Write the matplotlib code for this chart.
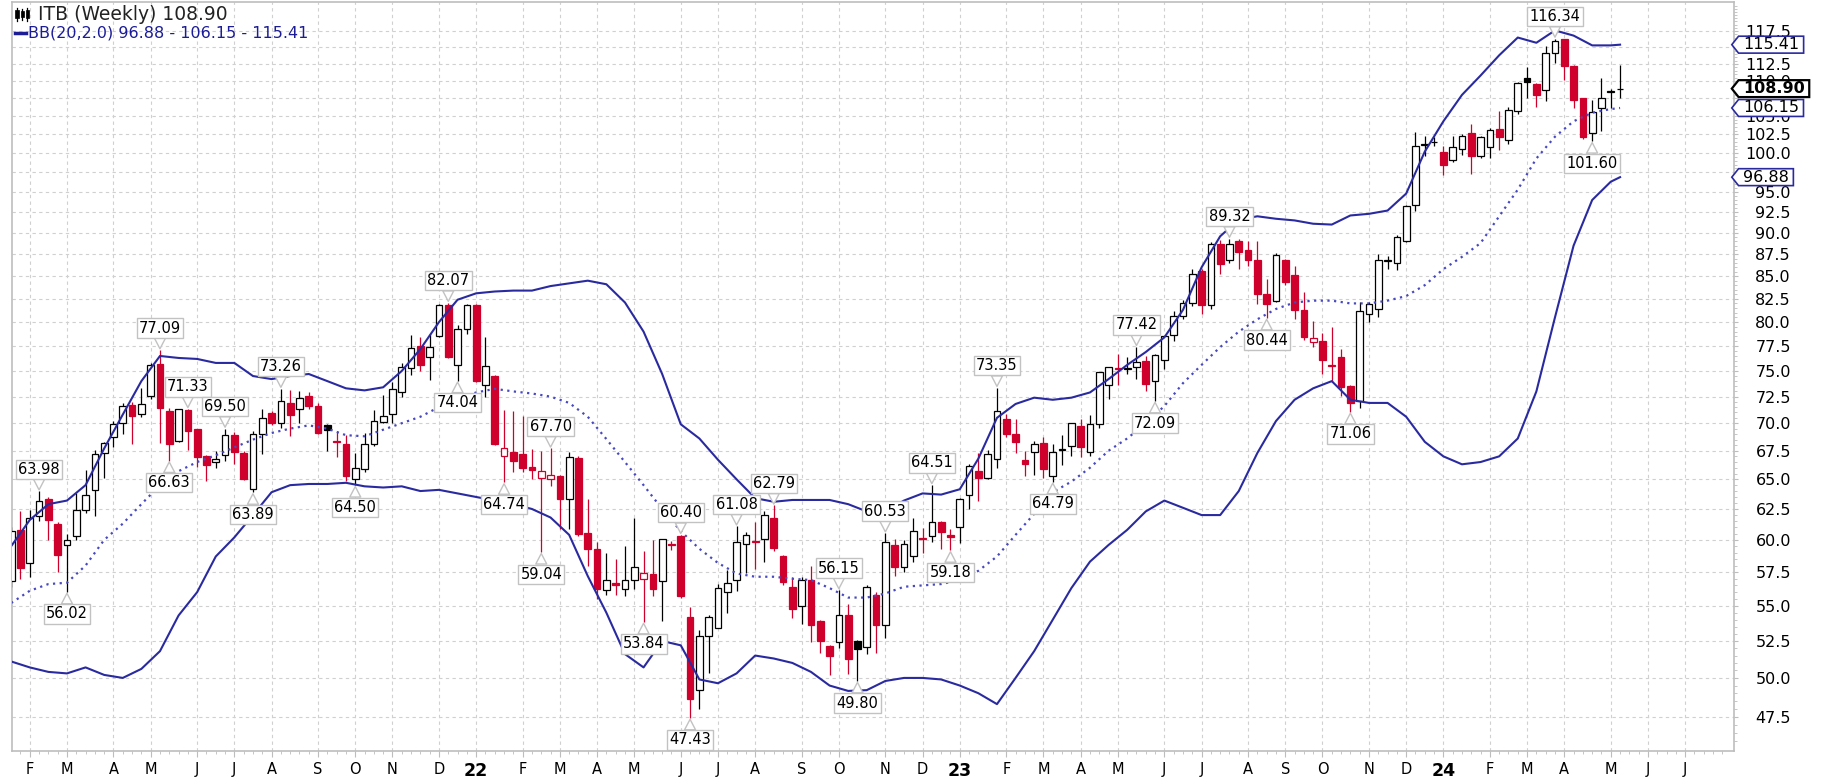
import numpy as np
import pandas as pd
import matplotlib
matplotlib.use("Agg")
import matplotlib.pyplot as plt
from matplotlib.path import Path
from matplotlib.lines import Line2D
from matplotlib.patches import Rectangle
from matplotlib.ticker import FixedLocator, NullFormatter

W, H = 1822, 778
RED = '#d0002c'
BLUE = '#2a2aa0'
NAVY = '#1c1c96'
GRID = '#d0d0d0'
FRAME = '#bdbdbd'

# ITB weekly bars, first bar = week of 2021-01-18
first_week = '2021-01-18'
opens = [
    56.8, 60.8, 58.2, 61.9, 63.3, 61.3, 59.6, 60.3, 62.45, 64.1,
    67.3, 68.7, 70.05, 71.75, 70.9, 72.6, 75.7, 71.1, 68.4, 71.2,
    69.45, 67.05, 66.5, 67.1, 68.9, 67.3, 64.15, 69.0, 70.95, 70.05,
    71.9, 71.3, 72.6, 71.6, 69.8, 68.35, 68.1, 65.0, 65.9, 68.1,
    70.1, 70.85, 72.9, 75.3, 77.5, 76.4, 78.5, 81.85, 75.6, 79.3,
    81.8, 73.6, 74.55, 67.05, 67.4, 67.2, 66.1, 65.15, 65.05, 65.3,
    63.35, 66.85, 60.55, 59.3, 56.15, 56.65, 56.2, 56.9, 57.0, 57.35,
    56.8, 59.65, 60.3, 54.2, 49.2, 52.85, 53.4, 56.0, 56.9, 59.7,
    59.95, 60.05, 61.75, 58.7, 56.4, 54.95, 56.9, 53.9, 52.15, 52.4,
    54.3, 52.5, 52.1, 55.8, 53.65, 59.6, 57.9, 58.7, 60.15, 60.3,
    61.4, 60.35, 61.0, 63.7, 65.75, 65.15, 66.75, 70.4, 69.0, 66.7,
    67.35, 68.2, 65.3, 67.55, 67.95, 69.75, 67.35, 69.9, 73.6, 75.25,
    75.15, 75.35, 76.0, 74.0, 76.1, 78.7, 80.7, 82.0, 85.6, 81.8,
    88.7, 86.8, 89.1, 87.95, 86.8, 83.05, 82.3, 86.8, 85.1, 81.25,
    77.95, 78.0, 75.6, 76.4, 73.55, 72.1, 80.9, 81.4, 86.75, 86.45,
    89.1, 93.4, 101.1, 101.45, 100.2, 99.1, 100.6, 102.7, 99.6, 100.8,
    103.25, 101.7, 105.7, 110.5, 109.6, 108.7, 114.2, 116.2, 112.2, 107.5,
    102.7, 106.2, 108.4, 108.8,
]
highs = [
    61.0, 62.3, 62.4, 63.98, 63.5, 61.4, 60.5, 63.8, 65.8, 67.6,
    68.3, 70.2, 71.9, 72.0, 73.3, 75.8, 77.09, 71.4, 71.3, 71.33,
    69.5, 67.1, 67.5, 69.5, 69.2, 67.5, 69.3, 71.3, 71.1, 73.26,
    73.1, 73.0, 72.9, 71.9, 69.9, 69.3, 68.9, 67.3, 69.1, 71.2,
    72.7, 73.9, 75.8, 78.6, 78.4, 78.8, 81.9, 82.07, 79.65, 81.95,
    81.9, 78.4, 74.6, 71.2, 71.1, 70.7, 67.65, 67.5, 67.70, 65.4,
    67.4, 67.0, 63.3, 59.8, 58.95, 58.5, 59.5, 61.8, 59.1, 60.0,
    60.1, 59.95, 60.40, 54.9, 53.3, 54.35, 56.6, 57.65, 61.08, 60.6,
    61.4, 62.3, 62.79, 58.8, 57.1, 57.1, 58.0, 53.95, 52.2, 56.15,
    55.1, 52.6, 56.55, 56.0, 60.53, 60.1, 60.0, 61.75, 60.95, 64.51,
    61.5, 60.85, 63.45, 66.3, 67.3, 67.6, 73.35, 70.85, 70.4, 67.5,
    68.4, 68.7, 68.1, 68.9, 70.05, 70.4, 70.8, 74.9, 75.4, 76.7,
    76.4, 77.42, 76.5, 76.7, 78.5, 81.2, 82.35, 85.8, 85.8, 88.9,
    89.2, 89.32, 89.3, 89.0, 89.1, 84.7, 87.7, 87.0, 86.2, 83.2,
    80.15, 78.9, 79.5, 77.2, 73.6, 82.1, 82.1, 87.5, 87.3, 89.7,
    93.4, 102.8, 102.3, 102.1, 101.0, 102.3, 102.5, 103.9, 102.3, 103.4,
    105.7, 106.3, 109.9, 112.1, 109.7, 115.2, 116.34, 116.3, 112.4, 107.6,
    107.3, 110.4, 108.8, 112.4,
]
lows = [
    56.4, 57.0, 57.1, 61.5, 60.0, 57.5, 56.02, 60.0, 62.2, 61.9,
    65.15, 67.8, 69.0, 68.1, 70.6, 72.3, 68.2, 66.63, 68.3, 67.6,
    66.1, 64.85, 66.0, 66.6, 66.3, 64.9, 63.89, 67.2, 69.8, 69.6,
    68.8, 70.05, 71.3, 69.0, 67.5, 66.9, 64.85, 64.5, 65.6, 67.9,
    70.0, 70.05, 72.5, 74.6, 75.0, 74.1, 78.4, 76.3, 74.04, 78.8,
    73.9, 72.45, 68.0, 64.74, 65.6, 65.6, 65.0, 59.04, 64.4, 60.9,
    60.9, 60.3, 58.0, 55.5, 55.8, 55.8, 55.7, 56.2, 53.84, 55.7,
    53.9, 59.2, 55.6, 47.43, 48.0, 50.35, 53.4, 54.5, 56.1, 57.4,
    57.75, 58.3, 59.1, 56.5, 54.1, 53.7, 52.4, 51.7, 50.2, 52.0,
    50.25, 49.80, 51.6, 51.7, 52.7, 57.2, 57.5, 58.3, 59.0, 59.8,
    59.3, 59.18, 59.75, 62.5, 63.15, 65.0, 66.0, 68.7, 67.3, 65.3,
    65.4, 65.15, 64.79, 66.2, 67.05, 66.9, 67.05, 69.6, 72.3, 73.6,
    74.7, 74.2, 73.05, 72.09, 75.2, 78.05, 80.3, 81.7, 80.9, 81.4,
    85.3, 86.5, 85.85, 86.2, 81.95, 80.44, 82.1, 84.0, 80.3, 78.1,
    77.4, 74.7, 73.9, 72.6, 71.06, 71.4, 80.0, 80.5, 85.8, 85.7,
    88.9, 92.7, 99.6, 100.9, 97.1, 98.8, 99.8, 97.3, 99.4, 99.4,
    100.4, 101.2, 105.3, 107.5, 106.3, 107.2, 112.7, 110.1, 106.1, 101.9,
    101.60, 103.0, 106.2, 107.6,
]
closes = [
    60.7, 57.8, 61.8, 63.2, 61.6, 58.8, 60.0, 62.4, 63.7, 67.2,
    68.2, 69.9, 71.6, 70.7, 71.8, 75.6, 71.4, 68.1, 71.3, 69.3,
    66.9, 66.2, 66.8, 68.9, 67.4, 65.0, 69.0, 70.45, 70.05, 72.05,
    70.8, 72.4, 71.6, 69.1, 69.4, 68.3, 65.3, 65.95, 68.1, 70.2,
    70.7, 73.2, 75.4, 77.3, 75.6, 77.4, 81.8, 76.4, 79.25, 81.8,
    74.05, 75.5, 68.1, 67.7, 66.6, 66.0, 65.8, 65.7, 65.35, 63.3,
    66.95, 60.45, 59.3, 56.2, 56.9, 56.55, 56.9, 57.9, 57.4, 56.2,
    60.05, 59.6, 55.7, 48.65, 52.85, 54.2, 56.3, 56.65, 59.85, 60.35,
    59.85, 62.0, 59.35, 56.75, 54.8, 56.9, 53.6, 52.5, 51.45, 54.35,
    51.3, 51.95, 56.4, 53.65, 59.85, 57.9, 59.7, 60.7, 60.05, 61.45,
    60.6, 60.25, 63.3, 66.15, 65.15, 67.2, 71.1, 69.0, 68.3, 66.3,
    68.1, 65.9, 67.35, 67.65, 70.0, 67.8, 69.9, 74.85, 75.35, 75.15,
    75.25, 75.85, 73.7, 76.6, 78.5, 80.7, 82.0, 85.3, 81.8, 88.7,
    86.4, 88.74, 87.75, 86.8, 83.05, 81.95, 87.4, 84.4, 81.25, 78.45,
    78.35, 76.1, 75.5, 73.4, 71.9, 81.2, 81.95, 86.8, 86.85, 89.5,
    93.2, 101.0, 101.25, 101.55, 98.5, 100.8, 102.3, 99.6, 102.1, 103.1,
    102.2, 105.8, 109.7, 109.8, 108.0, 114.2, 115.9, 112.2, 107.3, 102.1,
    105.6, 107.5, 108.6, 108.90,
]

# Bollinger Bands (20, 2.0) read every second week, plus the last bar
bb_weeks = list(range(0, 173, 2)) + [173]
bb_upper = [
    59.5, 61.6, 62.9, 63.2, 64.5, 67.7, 70.8, 74.0, 76.5, 76.3,
    76.2, 75.8, 75.8, 74.5, 74.2, 74.5, 74.7, 74.0, 73.3, 73.1,
    73.4, 75.0, 77.2, 80.0, 82.4, 83.1, 83.3, 83.4, 83.4, 83.9,
    84.2, 84.5, 84.1, 82.1, 79.0, 74.7, 69.9, 68.6, 66.7, 65.0,
    63.4, 63.1, 63.25, 63.25, 63.25, 62.9, 62.3, 62.3, 63.2, 63.8,
    63.7, 64.15, 66.8, 70.5, 71.8, 72.4, 72.2, 72.4, 72.9, 74.2,
    75.6, 76.9, 78.4, 81.3, 86.0, 89.6, 91.6, 92.0, 91.7, 91.5,
    91.1, 91.0, 92.1, 92.3, 92.7, 94.8, 100.2, 104.3, 108.0, 110.8,
    113.8, 116.5, 115.7, 117.6, 116.8, 115.3, 115.3, 115.41,
]
bb_middle = [
    55.2, 56.1, 56.6, 56.7, 58.0, 60.0, 61.3, 62.9, 64.5, 65.7,
    66.5, 67.1, 67.8, 68.5, 69.1, 69.5, 69.8, 69.5, 68.9, 68.8,
    69.4, 70.0, 70.6, 71.5, 72.3, 72.9, 73.25, 73.0, 72.8, 72.5,
    71.9, 70.6, 68.55, 66.5, 64.5, 62.5, 60.7, 59.3, 58.2, 57.4,
    57.15, 57.15, 57.0, 56.9, 56.3, 55.6, 55.6, 55.9, 56.4, 56.5,
    56.6, 56.9, 57.6, 58.7, 60.4, 62.1, 63.9, 64.8, 66.0, 67.5,
    68.6, 70.0, 71.6, 73.8, 75.6, 77.4, 79.0, 80.3, 81.4, 82.1,
    82.3, 82.3, 82.0, 82.0, 82.3, 82.8, 84.0, 85.8, 87.2, 88.8,
    92.0, 95.3, 99.3, 102.2, 104.3, 105.5, 106.0, 106.15,
]
bb_lower = [
    51.1, 50.7, 50.4, 50.3, 50.7, 50.2, 50.0, 50.6, 51.8, 54.3,
    56.0, 58.7, 60.2, 62.0, 63.9, 64.5, 64.6, 64.6, 64.7, 64.4,
    64.3, 64.4, 64.0, 64.1, 63.8, 63.5, 63.2, 62.9, 62.5, 61.8,
    60.4, 57.2, 54.5, 51.6, 50.7, 52.5, 52.2, 49.9, 49.65, 50.3,
    51.5, 51.3, 51.0, 50.4, 49.5, 49.15, 49.2, 49.8, 50.0, 50.0,
    49.9, 49.5, 49.0, 48.3, 50.0, 51.8, 54.0, 56.3, 58.3, 59.6,
    60.8, 62.3, 63.2, 62.6, 62.0, 62.0, 64.0, 67.3, 70.2, 72.2,
    73.3, 74.0, 72.2, 71.9, 71.9, 70.6, 68.3, 67.0, 66.3, 66.5,
    67.0, 68.6, 73.0, 80.5, 88.5, 94.0, 96.3, 96.88,
]

# swing highs / lows that carry a price callout
peak_weeks = [3, 16, 19, 23, 29, 47, 58, 72, 78, 82, 89, 94, 99, 106, 121, 131, 166]
trough_weeks = [6, 17, 26, 37, 48, 53, 57, 68, 73, 91, 101, 112, 123, 135, 144, 170]

o = np.array(opens)
h = np.array(highs)
l = np.array(lows)
c = np.array(closes)
x = np.arange(len(c))
prev = np.r_[o[0], c[:-1]]
colors = np.where(c >= prev, 'black', RED)
faces = np.where(c > o, 'white', colors)

fig = plt.figure(figsize=(W / 100, H / 100), dpi=100)
fig.patch.set_facecolor('white')
ax = fig.add_axes([12 / W, 27 / H, 1722 / W, 749 / H])

# candles
ax.vlines(x, l, h, colors=colors, lw=0.9, zorder=3)
ax.bar(x, np.abs(c - o), bottom=np.minimum(o, c), width=0.72,
       color=faces, edgecolor=colors, lw=0.9, zorder=4)

# bollinger bands
ax.plot(bb_weeks, bb_upper, color=BLUE, lw=1.5, zorder=5)
ax.plot(bb_weeks, bb_lower, color=BLUE, lw=1.5, zorder=5)
ax.plot(bb_weeks, bb_middle, color='#4848c0', lw=1.6, ls=(0, (1, 2)), zorder=5)

# last-value tags on the price axis
tags = [(bb_upper[-1], BLUE, 'normal'), (bb_middle[-1], BLUE, 'normal'),
        (bb_lower[-1], BLUE, 'normal'), (c[-1], 'black', 'bold')]
tag_vals = np.array([t[0] for t in tags])

# axes scales and ticks
ax.set_yscale('log')
ax.set_ylim(45.40, 122.1)
ax.set_xlim(0.09, 185.25)

yt = np.arange(47.5, 118, 2.5)


def covered(v):
    # a price label hidden behind a tag, or squeezed between two of them
    near = np.abs(np.log(v / tag_vals)).min() < 0.009
    between = (tag_vals < v).any() and (tag_vals > v).any() and \
        np.sort(np.abs(np.log(v / tag_vals)))[1] < 0.015
    return near or between


ylabels = ['' if covered(v) else f'{v:.1f}' for v in yt]
ax.yaxis.set_major_locator(FixedLocator(yt))
ax.yaxis.set_minor_locator(FixedLocator(np.arange(46, 122, 0.5)))
ax.yaxis.set_minor_formatter(NullFormatter())
ax.set_yticklabels(ylabels)
ax.yaxis.tick_right()
ax.tick_params(axis='y', which='major', length=3, pad=38, labelsize=11.5,
               color=FRAME, labelcolor='black')
ax.tick_params(axis='y', which='minor', length=2, color=FRAME)
for t in ax.get_yticklabels():
    t.set_horizontalalignment('right')
    t.set_family('DejaVu Sans')

dates = pd.date_range(first_week, periods=185, freq='7D')
month_pos, month_lab, year_tick = [], [], []
for i in range(1, len(dates)):
    if dates[i].month != dates[i - 1].month:
        month_pos.append(i)
        if dates[i].month == 1:
            month_lab.append(f'{dates[i].year % 100:02d}')
            year_tick.append(True)
        else:
            month_lab.append('JFMAMJJASOND'[dates[i].month - 1])
            year_tick.append(False)
ax.xaxis.set_major_locator(FixedLocator(month_pos))
ax.xaxis.set_minor_locator(FixedLocator(np.arange(len(dates))))
ax.set_xticklabels(month_lab)
ax.tick_params(axis='x', which='major', length=4, pad=4, color=FRAME)
ax.tick_params(axis='x', which='minor', length=2, color=FRAME)
for t, yr in zip(ax.get_xticklabels(), year_tick):
    t.set_family(['Liberation Sans Narrow', 'DejaVu Sans'])
    t.set_fontsize(12.5 if yr else 10.5)
    t.set_fontweight('bold' if yr else 'normal')

ax.grid(True, which='major', color=GRID, ls=(0, (3, 3)), lw=0.8, zorder=0)
ax.set_axisbelow(True)
for s in ax.spines.values():
    s.set_color(FRAME)
    s.set_linewidth(1.2)

# price callouts at swing points
box = dict(boxstyle='square,pad=0.15', fc='white', ec='#c2c2c2', lw=1)
ptr = dict(arrowstyle='wedge,tail_width=0.75', fc='white', ec='#c2c2c2', lw=1,
           shrinkA=0, shrinkB=1)
for k in peak_weeks:
    ax.annotate(f'{h[k]:.2f}', xy=(k, h[k]), xytext=(0, 10.5), textcoords='offset points',
                ha='center', va='bottom', fontsize=10.5, family='DejaVu Sans',
                bbox=box, arrowprops=ptr, zorder=8, annotation_clip=False)
for k in trough_weeks:
    ax.annotate(f'{l[k]:.2f}', xy=(k, l[k]), xytext=(0, -10.5), textcoords='offset points',
                ha='center', va='top', fontsize=10.5, family='DejaVu Sans',
                bbox=box, arrowprops=ptr, zorder=8, annotation_clip=False)


def tag_shape(x0, y0, width, height, mutation_size):
    px, py = 0.28 * mutation_size, 0.06 * mutation_size
    x0, y0 = x0 - px, y0 - py
    x1, y1 = x0 + width + 2 * px, y0 + height + 2 * py
    tip = 0.4 * (y1 - y0)
    return Path([(x0, y0), (x1, y0), (x1, y1), (x0, y1),
                 (x0 - tip, (y0 + y1) / 2), (x0, y0), (x0, y0)], closed=True)


for val, ec, wt in tags:
    ax.annotate(f'{val:.2f}', xy=(1, val), xycoords=('axes fraction', 'data'),
                xytext=(6.5, 0), textcoords='offset points', ha='left', va='center',
                fontsize=11.5, fontweight=wt, family='DejaVu Sans',
                bbox=dict(boxstyle=tag_shape, fc='white', ec=ec,
                          lw=1.6 if wt == 'bold' else 1.2),
                zorder=9, annotation_clip=False)

# legend block
fx = lambda px: px / W
fy = lambda py: 1 - py / H
for xa, top, bot, btop, bbot in [(17, 8, 21, 10, 18), (22, 9, 20, 11, 17), (27, 8, 21, 10, 18)]:
    fig.add_artist(Line2D([fx(xa), fx(xa)], [fy(top), fy(bot)], color='black', lw=0.9))
    fig.add_artist(Rectangle((fx(xa - 1.5), fy(bbot)), 3 / W, (bbot - btop) / H,
                             fc='black', ec='black', lw=0.5))
fig.text(fx(38), fy(15), f'ITB (Weekly) {c[-1]:.2f}', ha='left', va='center',
         fontsize=13.5, family='DejaVu Sans', color='#222222')
fig.add_artist(Line2D([fx(15), fx(26)], [fy(33), fy(33)], color=NAVY, lw=2.5))
fig.text(fx(28), fy(33), f'BB(20,2.0) {bb_lower[-1]:.2f} - {bb_middle[-1]:.2f} - {bb_upper[-1]:.2f}',
         ha='left', va='center', fontsize=11.5, family='DejaVu Sans', color=NAVY)

fig.savefig('out.png', dpi=100, facecolor='white')
